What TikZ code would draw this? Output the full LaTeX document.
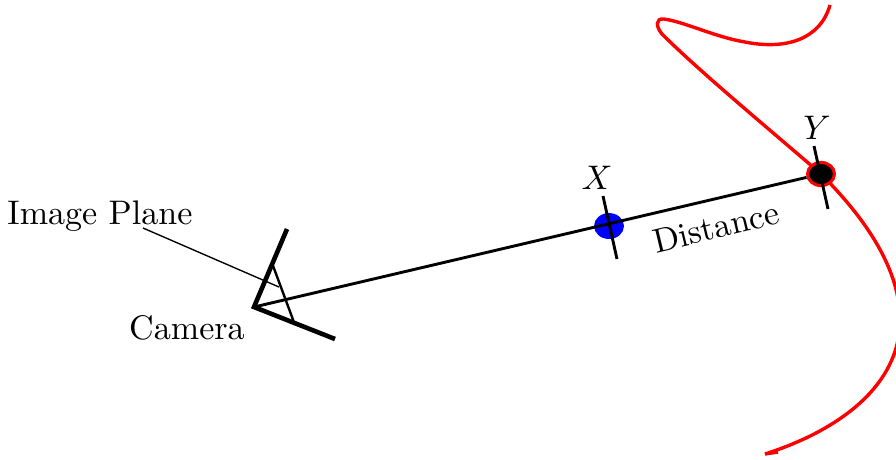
\documentclass[tikz,border=0pt]{standalone}
\usetikzlibrary{positioning,shapes.geometric}
\tikzset{
	point/.style = {ellipse, inner sep = 0pt},
	tick/.style = {line width = 0.85pt},
	ray/.style = {line width = 0.85pt},
	lens/.style = {line width = 1.35pt},
	surface/.style = {red, line width = 1pt}
}
\begin{document}
\begin{tikzpicture}[x=0.2934pt,y=-0.2934pt]
		\useasboundingbox (0,0) rectangle (896,459);

		% surface
		\draw[surface] (830,5) .. controls (820,40) and (785,50) .. (745,42)
			.. controls (715,37) and (685,22) .. (664,19)
			.. controls (655,18) and (656,27) .. (662,34)
			.. controls (700,72) and (775,134) .. (821,174)
			.. controls (860,213) and (900,265) .. (900,320)
			.. controls (900,385) and (840,430) .. (765,454) -- (778,452);

		\coordinate (camera) at (254,307);
		\coordinate (lensA) at (287,229);
		\coordinate (lensB) at (335,339);
		\coordinate (planeA) at (272,263);
		\coordinate (planeB) at (295,325);
		\coordinate (leader) at (143,228);
		\coordinate (leaderEnd) at (279,287);

		\node[point, fill = blue, minimum width = 8.8pt, minimum height = 7.6pt] (x) at (609,226) {};
		\node[point, fill = black, draw = red, line width = 0.9pt, minimum width = 7.9pt, minimum height = 6.8pt] (y) at (821,174) {};

		\coordinate (xA) at (603,196);
		\coordinate (xB) at (617,259);
		\coordinate (yA) at (814,146);
		\coordinate (yB) at (828,209);

		\draw[ray] (camera) -- (y);
		\draw[tick] (xA) -- (xB);
		\draw[tick] (yA) -- (yB);
		\draw[lens] (lensA) -- (camera) -- (lensB);
		\draw[line width = 0.7pt] (planeA) -- (planeB);
		\draw[line width = 0.4pt] (leader) -- (leaderEnd);

		\node (xlabel) at (597,178) {$X$};
		\node (ylabel) at (817,128) {$Y$};
		\node[rotate = 13.5] (distance) at (716,227) {Distance};
		\node (imageplane) at (100,216) {Image Plane};
		\node (cameralabel) at (187,328) {Camera};
	\end{tikzpicture}
\end{document}
